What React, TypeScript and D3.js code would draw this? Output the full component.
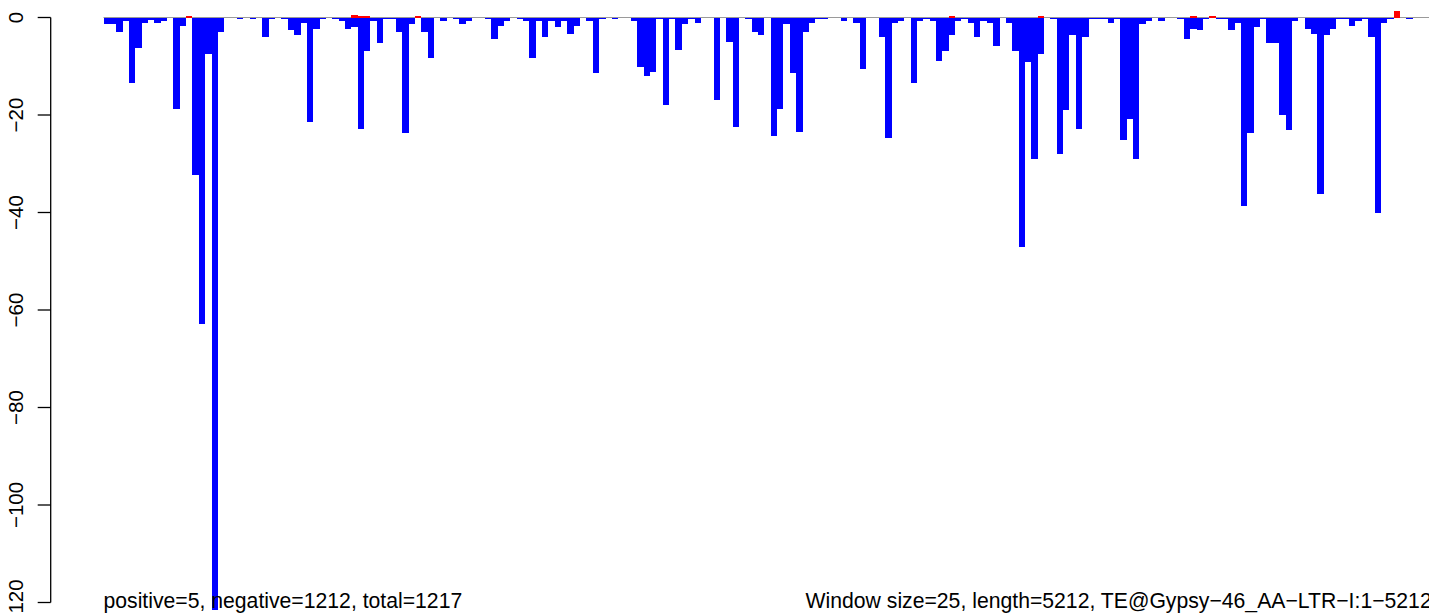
import React from "react";
import * as d3 from "d3";

const W = 1429;
const H = 613;

const windowCount = 209;

// negative signal per 25-bp window (blue bars)
const negativeValues = [
  -1.3, -1.3, -2.9, -0.65, -13.4, -6.2, -1.1, -0.5, -1.1, -0.65,
  0, -18.8, -1.7, 0, -32.4, -62.8, -7.4, -121.5, -2.9, 0,
  0, -0.25, 0, -0.25, 0, -4.1, -0.25, 0, -0.25, -2.5,
  -3.5, -1.06, -21.4, -2.3, -0.25, 0, -0.25, -0.65, -2.3, -1.9,
  -22.8, -6.8, -0.65, -5.2, -0.25, -0.25, -2.9, -23.6, -1.3, 0,
  -2.9, -8.4, 0, -0.65, 0, -0.25, -1.3, -0.65, 0, 0,
  -0.25, -4.5, -1.7, -0.65, 0, -0.25, -0.65, -8.4, -0.65, -4.1,
  -0.65, -1.9, -0.65, -3.3, -1.7, 0, -0.65, -11.3, -0.25, 0,
  -0.25, 0, 0, -0.65, -10.1, -11.9, -11.1, -0.25, -17.9, -0.25,
  -6.6, -1.3, -0.25, -1.06, 0, 0, -16.9, 0, -5.0, -22.4,
  0, -0.25, -2.9, -3.5, 0, -24.4, -18.8, -1.3, -11.3, -23.4,
  -2.9, -1.06, -0.25, -0.25, 0, 0, -0.65, 0, -1.06, -10.5,
  0, 0, -4.1, -24.7, -1.06, -0.65, 0, -13.4, -0.65, -0.25,
  -0.65, -8.9, -6.8, -3.5, -0.65, -0.25, -1.06, -3.9, -0.65, -1.06,
  -5.8, 0, -1.06, -6.8, -47.0, -9.1, -29.0, -7.4, 0, -0.25,
  -27.9, -18.9, -3.5, -22.8, -4.1, -0.25, -0.25, -0.25, -1.06, -0.25,
  -25.1, -20.8, -29.0, -1.3, -0.65, 0, -0.65, 0, 0, -0.25,
  -4.5, -2.3, -2.5, -0.25, 0, -0.25, -0.25, -2.5, -1.06, -38.6,
  -23.6, -1.9, -0.25, -5.2, -5.2, -20.1, -23.0, -0.65, 0, -2.3,
  -3.3, -36.3, -3.5, -2.3, -0.25, -0.25, -1.7, -0.65, -0.25, -3.9,
  -40.2, -1.06, -0.25, 0, 0, -0.25, 0, 0, 0,
];

// positive signal (red bars): window index and height
const positiveWindows = [13, 39, 40, 41, 49, 133, 147, 171, 174, 203];
const positiveValues = [0.3, 0.55, 0.27, 0.27, 0.3, 0.3, 0.3, 0.3, 0.3, 1.3];

const yTicks = [0, -20, -40, -60, -80, -100, -120];

const leftLabel = "positive=5, negative=1212, total=1217";
const rightLabel = "Window size=25, length=5212, TE@Gypsy\u221246_AA\u2212LTR\u2212I:1\u22125212";

const FONT = "'Liberation Sans', Arial, Helvetica, sans-serif";

function fmtTick(v: number): string {
  return v < 0 ? "\u2212" + Math.abs(v) : String(v);
}

export default function App() {
  const x = d3.scaleLinear().domain([0, windowCount]).range([103.5, 1431.7]);
  const y = d3.scaleLinear().domain([0, -120]).range([17.5, 602.5]);
  const axisX = 50.7;
  const tickLen = 13;

  const negBars = negativeValues.map((v, i) => ({ i, v })).filter((d) => d.v < 0);
  const posBars = positiveWindows.map((i, k) => ({ i, v: positiveValues[k] }));

  return (
    <svg
      width={W}
      height={H}
      style={{ position: "absolute", left: 0, top: 0, background: "#fff" }}
      fontFamily={FONT}
    >
      <rect x={0} y={0} width={W} height={H} fill="#ffffff" />
      {/* zero line */}
      <line
        x1={x(0)}
        x2={x(windowCount)}
        y1={y(0)}
        y2={y(0)}
        stroke="#9a9a9a"
        strokeWidth={1}
      />
      {/* negative bars */}
      <g shapeRendering="crispEdges">
        {negBars.map((d) => (
          <rect
            key={"n" + d.i}
            x={x(d.i)}
            width={x(d.i + 1) - x(d.i)}
            y={y(0)}
            height={y(d.v) - y(0)}
            fill="#0000ff"
          />
        ))}
        {posBars.map((d) => (
          <rect
            key={"p" + d.i}
            x={x(d.i)}
            width={x(d.i + 1) - x(d.i)}
            y={y(d.v)}
            height={y(0) - y(d.v)}
            fill="#ff0000"
          />
        ))}
      </g>
      {/* y axis */}
      <g stroke="#000" strokeWidth={1.3} fill="none">
        <line x1={axisX} x2={axisX} y1={y(0)} y2={y(-120)} />
        {yTicks.map((t) => (
          <line key={t} x1={axisX - tickLen} x2={axisX} y1={y(t)} y2={y(t)} />
        ))}
      </g>
      {yTicks.map((t) => (
        <text
          key={"l" + t}
          transform={`translate(23,${y(t)}) rotate(-90)`}
          textAnchor="middle"
          fontSize={20.5}
          fill="#000"
        >
          {fmtTick(t)}
        </text>
      ))}
      {/* bottom annotations */}
      <text x={x(0)} y={608} fontSize={21.2} fill="#000" textAnchor="start">
        {leftLabel}
      </text>
      <text x={x(windowCount)} y={608} fontSize={21.2} fill="#000" textAnchor="end">
        {rightLabel}
      </text>
    </svg>
  );
}
